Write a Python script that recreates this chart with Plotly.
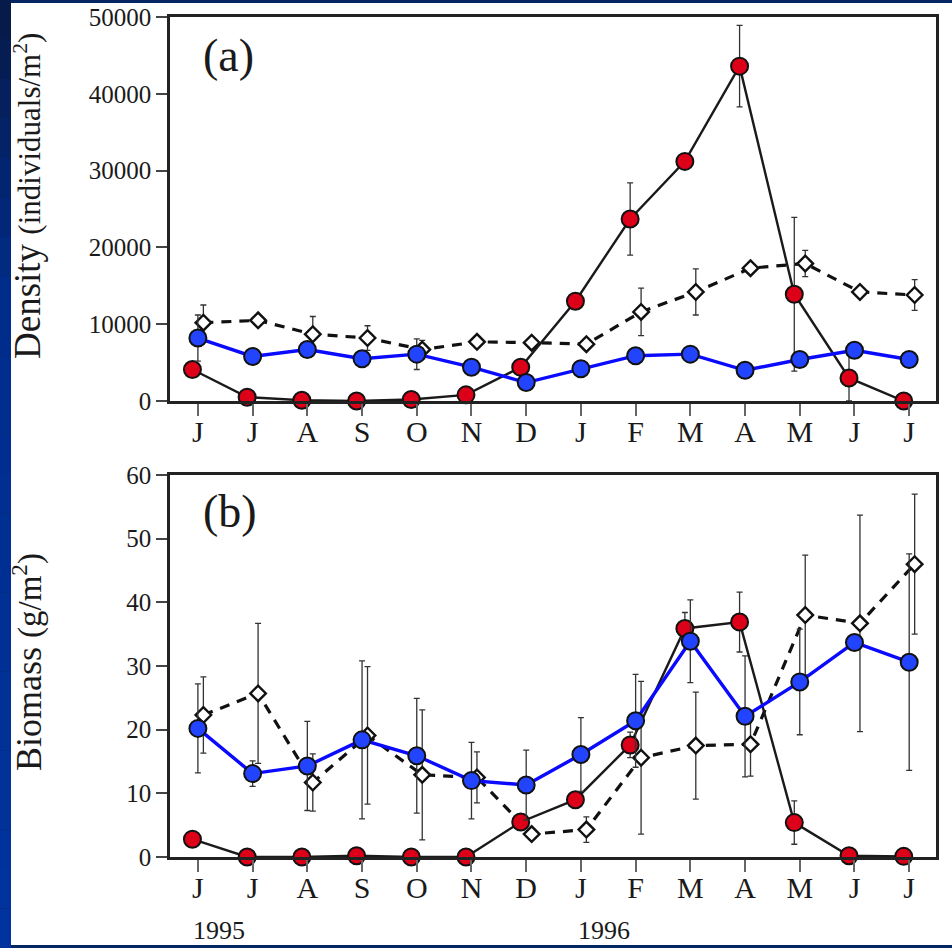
import plotly.graph_objects as go

# ---------------- data ----------------
months = ["J", "J", "A", "S", "O", "N", "D", "J", "F", "M", "A", "M", "J", "J"]
years = ["1995", "1996"]

# (a) Density (individuals/m2)
dens_red = [4100, 500, 100, 0, 200, 800, 4400, 13000, 23700, 31200, 43600, 13900, 3000, 0]
dens_red_err = [None, None, None, None, None, None, None, 1000, 4700, None, 5300, 10000, 3000, None]
dens_open = [10200, 10500, 8700, 8200, 6700, 7700, 7600, 7400, 11600, 14200, 17300, 17900, 14200, 13800]
dens_open_err = [2300, None, 2300, 1600, 1200, None, None, None, 3100, 3000, None, 1700, None, 2000]
dens_blue = [8200, 5800, 6700, 5500, 6100, 4400, 2400, 4200, 5900, 6100, 4000, 5400, 6600, 5400]
dens_blue_err = [3000, None, None, None, 2000, None, None, None, 800, 800, None, 1000, None, None]

# (b) Biomass (g/m2)
bio_red = [2.8, 0, 0, 0.2, 0, 0, 5.5, 9.0, 17.6, 35.9, 36.9, 5.4, 0.2, 0.1]
bio_red_err = [None, None, None, None, None, None, None, None, 2.0, 2.5, 4.7, 3.4, None, None]
bio_open = [22.3, 25.7, 11.7, 19.1, 12.9, 12.5, 3.6, 4.3, 15.6, 17.5, 17.7, 38.0, 36.7, 46.0]
bio_open_err = [6.0, 11.0, 4.5, 10.8, 10.2, 4.0, None, 2.0, 12.0, 8.4, 5.0, 9.4, 17.0, 11.0]
bio_blue = [20.2, 13.1, 14.3, 18.4, 15.9, 12.0, 11.3, 16.1, 21.4, 33.9, 22.1, 27.5, 33.7, 30.6]
bio_blue_err = [7.0, 2.0, 7.0, 12.4, 9.0, 6.0, 5.5, 5.8, 7.3, 6.5, 9.5, 8.3, None, 17.0]

# ---------------- style ----------------
W, H = 952, 948
FONT = "Liberation Serif"
TXT = "#1a1a1a"
RED = "#dc0019"
BLUE_M = "#2244ff"
BLUE_L = "#0a0aff"
OFF = {"red": -0.1, "blue": 0.0, "open": 0.1}


def px(x):
    return x / W


def py(y):
    return 1 - y / H


xpos = list(range(len(months)))


def shifted(k):
    return [i + OFF[k] for i in xpos]


def err(arr):
    return dict(type="data", array=arr, visible=True, color="#333333",
                thickness=1.3, width=3)


fig = go.Figure()

for xa, ya, red, rede, opn, opne, blu, blue in [
    ("x", "y", dens_red, dens_red_err, dens_open, dens_open_err, dens_blue, dens_blue_err),
    ("x2", "y2", bio_red, bio_red_err, bio_open, bio_open_err, bio_blue, bio_blue_err),
]:
    fig.add_trace(go.Scatter(
        x=shifted("open"), y=opn, xaxis=xa, yaxis=ya, mode="lines+markers",
        line=dict(color="#111111", width=3.2, dash="10px,8px"),
        marker=dict(symbol="diamond", size=12, color="white",
                    line=dict(color="#111111", width=2.4)),
        error_y=err(opne), cliponaxis=False, showlegend=False))
    fig.add_trace(go.Scatter(
        x=shifted("red"), y=red, xaxis=xa, yaxis=ya, mode="lines+markers",
        line=dict(color="#1a1a1a", width=2.4),
        marker=dict(symbol="circle", size=17, color=RED,
                    line=dict(color="#111111", width=2)),
        error_y=err(rede), cliponaxis=False, showlegend=False))
    fig.add_trace(go.Scatter(
        x=shifted("blue"), y=blu, xaxis=xa, yaxis=ya, mode="lines+markers",
        line=dict(color=BLUE_L, width=3.4),
        marker=dict(symbol="circle", size=17, color=BLUE_M,
                    line=dict(color="#111111", width=2)),
        error_y=err(blue), cliponaxis=False, showlegend=False))

xdom = [px(170), px(936)]
dom_a = [py(401), py(17)]
dom_b = [py(857), py(475)]

xcommon = dict(range=[-0.51, 13.49], tickmode="array", tickvals=xpos, ticktext=months,
               showline=True, linecolor="#222222", linewidth=2.5, mirror=True,
               ticks="outside", ticklen=12, tickwidth=1.5, tickcolor="#666666",
               showgrid=False, zeroline=False, automargin=False, ticklabelstandoff=-10,
               tickfont=dict(family=FONT, size=30, color=TXT), domain=xdom)
ycommon = dict(showline=True, linecolor="#222222", linewidth=2.5, mirror=True,
               ticks="outside", ticklen=11, tickwidth=1.5, tickcolor="#444444",
               showgrid=False, zeroline=False, tickformat="d", automargin=False,
               tickfont=dict(family=FONT, size=25, color=TXT))
yright = dict(side="right", anchor="free", showticklabels=False, ticks="outside",
              ticklen=16, tickwidth=1.5, tickcolor="#555555", showline=True,
              linecolor="#999999", linewidth=1, showgrid=False, zeroline=False,
              automargin=False)

fig.update_layout(
    width=W, height=H, margin=dict(l=0, r=0, t=0, b=0, pad=0), autosize=False,
    paper_bgcolor="#062563", plot_bgcolor="white",
    xaxis=dict(xcommon, anchor="y"),
    yaxis=dict(ycommon, domain=dom_a, range=[0, 50000], dtick=10000, anchor="x"),
    xaxis2=dict(xcommon, anchor="y2"),
    yaxis2=dict(ycommon, domain=dom_b, range=[0, 60], dtick=10, anchor="x2"),
    # outer right-hand tick columns
    yaxis3=dict(yright, overlaying="y", position=px(938), range=[0, 50000], dtick=10000),
    yaxis4=dict(yright, overlaying="y2", position=px(939), range=[0, 60], dtick=10),
)

# slide background: white card on a dark-blue gradient frame
shapes = []
stops = [(0, (8, 26, 70)), (300, (0, 45, 140)), (948, (0, 52, 158))]
n = 24
for i in range(n):
    y0 = H * i / n
    y1 = H * (i + 1) / n
    ym = (y0 + y1) / 2
    for (a, ca), (b, cb) in zip(stops[:-1], stops[1:]):
        if a <= ym <= b:
            t = (ym - a) / (b - a)
            c = tuple(int(ca[j] + (cb[j] - ca[j]) * t) for j in range(3))
    shapes.append(dict(type="rect", xref="paper", yref="paper", x0=0, x1=px(11),
                       y0=py(y1), y1=py(y0), fillcolor="rgb(%d,%d,%d)" % c,
                       line=dict(width=0), layer="below"))
shapes.append(dict(type="rect", xref="paper", yref="paper", x0=px(11), x1=1,
                   y0=py(945), y1=py(3), fillcolor="white", line=dict(width=0),
                   layer="below"))
fig.update_layout(shapes=shapes)

ann = [
    dict(x=px(228), y=py(55), text="(a)", font=dict(family=FONT, size=46, color=TXT)),
    dict(x=px(230), y=py(512), text="(b)", font=dict(family=FONT, size=46, color=TXT)),
    dict(x=px(219), y=py(930), text=years[0], font=dict(family=FONT, size=26, color=TXT)),
    dict(x=px(604), y=py(930), text=years[1], font=dict(family=FONT, size=26, color=TXT)),
    dict(x=px(27), y=py(196), textangle=-90,
         text='Density <span style="font-size:31px">(individuals/m<sup>2</sup>)</span>',
         font=dict(family=FONT, size=37, color=TXT)),
    dict(x=px(27), y=py(662), textangle=-90,
         text='Biomass <span style="font-size:33px">(g/m<sup>2</sup>)</span>',
         font=dict(family=FONT, size=36, color=TXT)),
]
for a in ann:
    a.update(xref="paper", yref="paper", showarrow=False, xanchor="center", yanchor="middle")
fig.update_layout(annotations=ann)

fig.write_html("out.html", config={"displayModeBar": False},
               post_script="document.body.style.margin='0';document.body.style.padding='0';")
